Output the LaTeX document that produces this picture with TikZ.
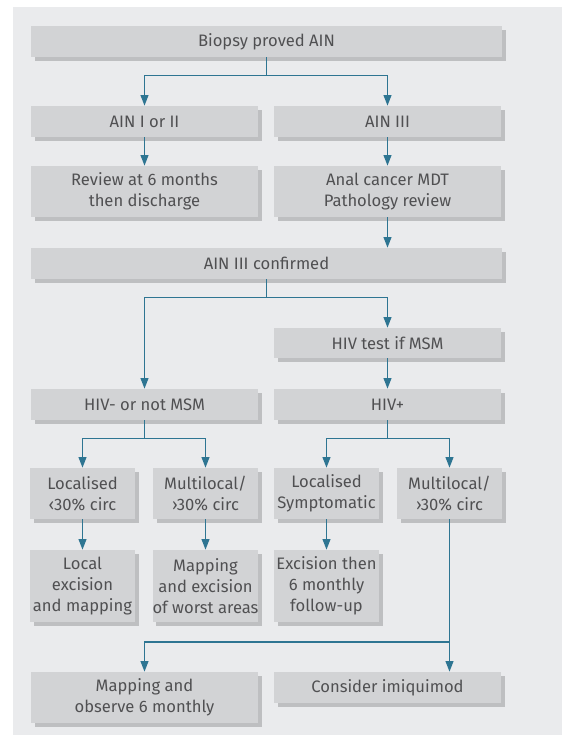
\documentclass[tikz,border=0pt]{standalone}
\usepackage{fontspec}
\setmainfont{Fira Sans}
\usetikzlibrary{arrows.meta, positioning, shadows}
\definecolor{panelcolor}{RGB}{234, 235, 237}
\definecolor{boxcolor}{RGB}{210, 211, 213}
\definecolor{shadowcolor}{RGB}{190, 191, 193}
\definecolor{flowcolor}{RGB}{46, 117, 146}
\definecolor{textcolor}{RGB}{80, 80, 82}

\begin{document}
\begin{tikzpicture}[
    x=0.025cm, y=-0.025cm,
    box/.style={rectangle, fill=boxcolor, text=textcolor, inner sep=0pt, align=center,
        font=\fontsize{11.8}{15}\selectfont,
        general shadow={fill=shadowcolor, shadow xshift=2.5pt, shadow yshift=-2.5pt}},
    halfbox/.style={box, minimum width=227*0.025cm},
    smallbox/.style={box, minimum width=105*0.025cm},
    flow/.style={draw=flowcolor, line width=1.1pt, -{Triangle[width=5.5pt, length=7.5pt]}}
]

% Panel
\useasboundingbox (0,0) rectangle (562,735);
\fill[panelcolor] (13,7) rectangle (562,735);

% First level
\node[box, minimum width=471*0.025cm, minimum height=31*0.025cm] (biopsy) at (266.5,41.5) {Biopsy proved AIN};
\node[halfbox, minimum height=31*0.025cm] (ainlow) at (144.5,121.5) {AIN I or II};
\node[halfbox, minimum height=31*0.025cm] (ainhigh) at (387.5,121.5) {AIN III};
\node[halfbox, minimum height=51*0.025cm] (review) at (144.5,191.5) {Review at 6 months\\then discharge};
\node[halfbox, minimum height=51*0.025cm] (mdt) at (387.5,191.5) {Anal cancer MDT\\Pathology review};

% Confirmed
\node[box, minimum width=471*0.025cm, minimum height=31*0.025cm] (confirmed) at (266.5,263.5) {AIN III confirmed};
\node[halfbox, minimum height=30*0.025cm] (hivtest) at (387.5,343) {HIV test if MSM};
\node[halfbox, minimum height=31*0.025cm] (hivneg) at (144.5,404.5) {HIV- or not MSM};
\node[halfbox, minimum height=31*0.025cm] (hivpos) at (387.5,404.5) {HIV+};

% Extent
\node[smallbox, minimum height=51*0.025cm] (locneg) at (82.5,493.5) {Localised\\‹30\% circ};
\node[smallbox, minimum height=51*0.025cm] (multineg) at (205.5,493.5) {Multilocal/\\›30\% circ};
\node[smallbox, minimum height=51*0.025cm] (locpos) at (326.5,493.5) {Localised\\Symptomatic};
\node[smallbox, minimum height=51*0.025cm] (multipos) at (449.5,493.5) {Multilocal/\\›30\% circ};

% Treatment
\node[smallbox, minimum height=72*0.025cm] (localex) at (82.5,586) {Local\\excision\\and mapping};
\node[smallbox, minimum height=72*0.025cm] (mapex) at (205.5,586) {Mapping\\and excision\\of worst areas};
\node[smallbox, minimum height=72*0.025cm] (excfollow) at (326.5,586) {Excision then\\6 monthly\\follow-up};
\node[halfbox, minimum height=51*0.025cm] (observe) at (144.5,697.5) {Mapping and\\observe 6 monthly};
\node[halfbox, minimum height=31*0.025cm] (imiq) at (387.5,687.5) {Consider imiquimod};

% Connections
\draw[flow] (biopsy.south) -- ++(0,18) -| (ainlow.north);
\draw[flow] (biopsy.south) -- ++(0,18) -| (ainhigh.north);
\draw[flow] (ainlow) -- (review);
\draw[flow] (ainhigh) -- (mdt);
\draw[flow] (mdt) -- (confirmed.north -| mdt.south);
\draw[flow] (confirmed.south) -- ++(0,18) -| (hivneg.north);
\draw[flow] (confirmed.south) -- ++(0,18) -| (hivtest.north);
\draw[flow] (hivtest) -- (hivpos);
\draw[flow] (hivneg.south) -- ++(0,18) -| (locneg.north);
\draw[flow] (hivneg.south) -- ++(0,18) -| (multineg.north);
\draw[flow] (hivpos.south) -- ++(0,18) -| (locpos.north);
\draw[flow] (hivpos.south) -- ++(0,18) -| (multipos.north);
\draw[flow] (locneg) -- (localex);
\draw[flow] (multineg) -- (mapex);
\draw[flow] (locpos) -- (excfollow);
\draw[flow] (multipos.south) -- (imiq.north -| multipos.south);
\coordinate (join) at (449.5,642);
\draw[flow] (join) -| (observe.north);

\end{tikzpicture}
\end{document}
